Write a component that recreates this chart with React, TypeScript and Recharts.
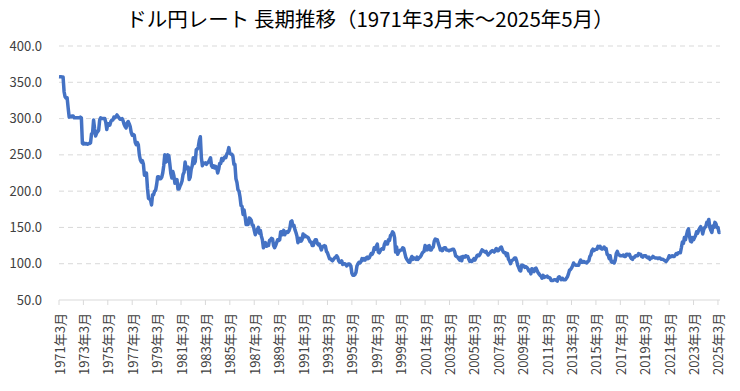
import { LineChart, Line, XAxis, YAxis, CartesianGrid } from "recharts";

const title = "ドル円レート 長期推移（1971年3月末～2025年5月）";

// month-end USD/JPY, one row per year (1971 starts in March, 2025 ends in May)
const startYear = 1971;
const startMonth = 3;
const rateRows: number[][] = [
  [357.7, 357.6, 357.5, 357.4, 357.4, 337, 330, 328, 328.5, 314.8],
  [302, 303, 302.5, 303.5, 303.5, 301.1, 301.1, 301.1, 301.1, 301.1, 301.1, 302],
  [301, 266, 265, 266, 265, 265.5, 264.5, 265.5, 265.5, 266.5, 279, 280],
  [298, 286, 276, 280, 282, 284, 298, 301, 300, 300, 300, 300],
  [295, 285, 293, 293, 291, 296, 298, 298, 302, 301, 303, 305],
  [303, 301, 299, 299, 300, 297, 292, 289, 287, 294, 296, 293],
  [289, 281, 277, 278, 277, 267, 264, 267, 264, 250, 243, 240],
  [242, 237, 222, 225, 225, 204, 190, 189, 188, 181, 195, 195],
  [200, 201, 209, 220, 220, 217, 217, 219, 225, 235, 250, 240],
  [241, 250, 249, 237, 224, 218, 227, 221, 211, 212, 216, 203],
  [203, 207, 210, 214, 223, 226, 240, 231, 231, 233, 216, 219],
  [230, 235, 246, 238, 241, 257, 258, 261, 270, 275, 246, 235],
  [239, 238, 239, 237, 239, 240, 243, 246, 235, 233, 235, 232],
  [234, 233, 225, 230, 238, 238, 245, 242, 245, 247, 246, 251],
  [254, 260, 252, 251, 251, 248, 237, 237, 217, 212, 202, 200],
  [192, 180, 179, 168, 174, 165, 154, 154, 154, 163, 162, 160],
  [153, 153, 146, 140, 145, 147, 150, 142, 146, 138, 133, 122],
  [128, 129, 124, 125, 125, 132, 133, 135, 134, 125, 122, 125],
  [129, 133, 132, 133, 144, 144, 140, 146, 140, 143, 144, 143],
  [145, 149, 158, 159, 152, 153, 147, 143, 138, 129, 133, 135],
  [131, 133, 141, 137, 139, 137, 137, 136, 133, 130, 130, 125],
  [125, 130, 133, 133, 128, 126, 127, 123, 119, 123, 124, 125],
  [124, 117, 115, 111, 107, 107, 105, 104, 106, 108, 109, 111],
  [109, 104, 102, 102, 104, 99, 100, 100, 99, 97, 99, 99.7],
  [99, 97, 87, 84, 84, 85, 88, 97, 100, 102, 101, 103],
  [107, 105, 107, 105, 108, 109, 107, 108, 111, 114, 113, 116],
  [122, 120, 124, 127, 116, 115, 118, 120, 121, 120, 127, 130],
  [127, 127, 133, 132, 139, 140, 144, 142, 136, 116, 123, 113],
  [116, 118, 119, 119, 122, 121, 115, 109, 106, 104, 102, 102],
  [107, 110, 106, 108, 107, 106, 109, 106, 108, 109, 111, 114],
  [116, 117, 125, 123, 119, 124, 125, 119, 119, 122, 123, 131],
  [134, 133, 133, 128, 124, 119, 120, 118, 121, 122, 122, 119],
  [119, 118, 118, 119, 119, 120, 120, 117, 111, 110, 109, 107],
  [105, 109, 104, 110, 110, 109, 111, 110, 110, 106, 103, 104],
  [103, 105, 107, 105, 108, 111, 112, 111, 113, 116, 119, 118],
  [117, 116, 117, 114, 112, 114, 115, 117, 118, 117, 116, 119],
  [121, 118, 118, 120, 122, 123, 119, 116, 115, 115, 111, 114],
  [106, 104, 100, 104, 105, 106, 108, 108, 104, 98, 95, 91],
  [90, 98, 98, 97, 95, 96, 95, 93, 90, 91, 86, 93],
  [90, 89, 93, 94, 91, 88, 86, 84, 83, 80, 84, 81],
  [82, 82, 83, 81, 81, 80, 77, 77, 77, 78, 78, 77],
  [76, 81, 82, 80, 78, 80, 78, 78, 78, 80, 82, 86],
  [91, 92, 94, 97, 101, 99, 98, 98, 98, 98, 102, 105],
  [102, 102, 103, 102, 102, 101, 103, 104, 110, 112, 118, 120],
  [118, 119, 120, 120, 124, 122, 124, 121, 120, 121, 123, 120],
  [121, 113, 112, 107, 111, 103, 102, 103, 101, 105, 114, 117],
  [113, 112, 111, 111, 111, 112, 110, 110, 113, 113, 112, 113],
  [109, 107, 106, 109, 109, 111, 111, 111, 114, 113, 113, 110],
  [109, 111, 111, 111, 109, 108, 109, 106, 108, 108, 110, 109],
  [108, 108, 108, 107, 108, 108, 106, 106, 106, 105, 104, 103],
  [105, 107, 111, 109, 110, 111, 110, 110, 112, 114, 113, 115],
  [115, 115, 122, 130, 128, 136, 133, 139, 145, 148, 138, 131],
  [130, 136, 133, 136, 139, 144, 142, 146, 149, 151, 148, 141],
  [147, 150, 151, 157, 157, 161, 150, 146, 143, 152, 150, 157],
  [155, 150, 150, 143, 144],
];

const yTicks = [50, 100, 150, 200, 250, 300, 350, 400];

const data: { label: string; rate: number }[] = [];
rateRows.forEach((row, i) => {
  row.forEach((v, j) => {
    const m = i === 0 ? startMonth + j : j + 1;
    data.push({ label: `${startYear + i}年${m}月`, rate: v });
  });
});

const font = '"Noto Sans CJK JP", "Noto Sans", sans-serif';

function XTick(props: any) {
  const { x, y, payload } = props;
  return (
    <g transform={`translate(${x},${y}) rotate(-90)`}>
      <text textAnchor="end" dominantBaseline="central" fontSize={13} fill="#404040" fontFamily={font}>
        {payload.value}
      </text>
    </g>
  );
}

export default function App() {
  return (
    <div style={{ position: "absolute", left: 0, top: 0, width: 740, height: 391, background: "#fff" }}>
      <div
        style={{
          position: "absolute",
          top: 4,
          left: 0,
          width: 740,
          textAlign: "center",
          fontFamily: font,
          fontSize: 20.5,
          color: "#000",
          lineHeight: "28px",
        }}
      >
        {title}
      </div>
      <LineChart width={740} height={391} data={data} margin={{ top: 46, right: 20, bottom: 0, left: 0 }}>
        <CartesianGrid vertical={false} stroke="#d9d9d9" strokeDasharray="5 4" horizontalValues={[100, 150, 200, 250, 300, 350, 400]} />
        <XAxis
          dataKey="label"
          interval={23}
          height={91}
          tick={<XTick />}
          tickSize={5}
          tickMargin={8}
          axisLine={{ stroke: "#d9d9d9" }}
          tickLine={{ stroke: "#d9d9d9" }}
        />
        <YAxis
          domain={[50, 400]}
          ticks={yTicks}
          width={59}
          axisLine={false}
          tickLine={false}
          tickSize={0}
          tickMargin={17}
          tickFormatter={(v: number) => v.toFixed(1)}
          tick={{ fontSize: 13, fill: "#404040", fontFamily: font }}
        />
        <Line
          dataKey="rate"
          stroke="#4472C4"
          strokeWidth={3.5}
          strokeLinejoin="round"
          dot={false}
          activeDot={false}
          isAnimationActive={false}
        />
      </LineChart>
    </div>
  );
}
